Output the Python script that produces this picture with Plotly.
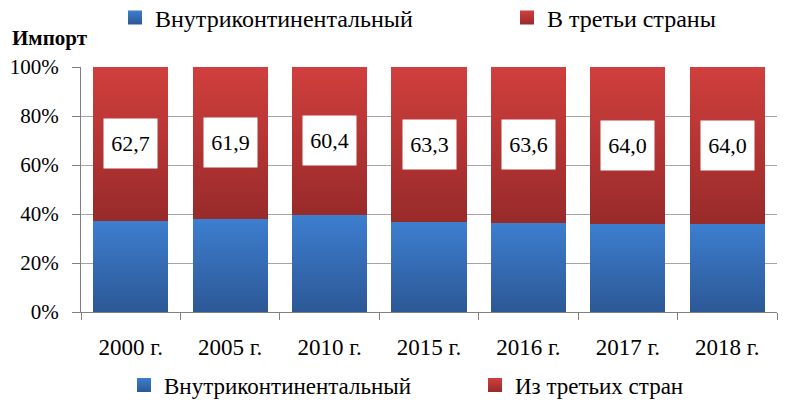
import json
import plotly.graph_objects as go

categories = ["2000 г.", "2005 г.", "2010 г.", "2015 г.", "2016 г.", "2017 г.", "2018 г."]
third_countries = [62.7, 61.9, 60.4, 63.3, 63.6, 64.0, 64.0]
intracontinental = [round(100 - v, 1) for v in third_countries]
label_text = [f"{v:.1f}".replace(".", ",") for v in third_countries]
y_ticks = [0, 20, 40, 60, 80, 100]
y_tick_text = [f"{v}%" for v in y_ticks]

bottom_legend_names = ["Внутриконтинентальный", "Из третьих стран"]
top_legend_names = ["Внутриконтинентальный", "В третьи страны"]

BLUE = "rgb(54,110,184)"
RED = "rgb(185,52,51)"
FONT = "Liberation Serif"

fig = go.Figure()
fig.add_trace(go.Bar(x=categories, y=intracontinental, name=bottom_legend_names[0],
                     marker=dict(color=BLUE, line=dict(width=0)), showlegend=False, hoverinfo="skip"))
fig.add_trace(go.Bar(x=categories, y=third_countries, name=bottom_legend_names[1],
                     marker=dict(color=RED, line=dict(width=0)), showlegend=False, hoverinfo="skip"))

# legend entries (legend-only marks)
for name, color, leg in [(bottom_legend_names[0], BLUE, "legend"),
                         (bottom_legend_names[1], RED, "legend3"),
                         (top_legend_names[0], BLUE, "legend2"),
                         (top_legend_names[1], RED, "legend4")]:
    fig.add_trace(go.Scatter(x=[None], y=[None], mode="markers", name=name, legend=leg,
                             marker=dict(symbol="square", size=14, color=color,
                                         line=dict(width=0)),
                             hoverinfo="skip"))

for c, b, r, t in zip(categories, intracontinental, third_countries, label_text):
    fig.add_annotation(x=c, y=b + r / 2, text=t, showarrow=False, bgcolor="white",
                       font=dict(family=FONT, size=22, color="black"),
                       width=51, height=47, align="center", valign="middle")

fig.add_annotation(x=-0.102, y=1.12, xref="paper", yref="paper", text="<b>Импорт</b>",
                   showarrow=False, xanchor="left", yanchor="middle",
                   font=dict(family=FONT, size=21, color="black"))

def leg(x_px, y_px, size):
    return dict(orientation="h", xref="container", yref="container",
                x=x_px / 789, xanchor="left", y=1 - y_px / 400, yanchor="middle",
                font=dict(family=FONT, size=size, color="black"), itemwidth=30,
                bgcolor="rgba(0,0,0,0)", borderwidth=0)

fig.update_layout(
    width=789, height=400,
    margin=dict(l=81, r=12, t=67, b=88, autoexpand=False),
    paper_bgcolor="white", plot_bgcolor="white",
    barmode="stack", bargap=0.245,
    font=dict(family=FONT, size=20, color="black"),
    legend=leg(166 - 42, 385, 23),
    legend3=leg(517 - 42, 385, 23),
    legend2=leg(157 - 42, 18, 24),
    legend4=leg(549 - 42, 18, 24),
    xaxis=dict(showline=True, linecolor="#808080", linewidth=1, ticks="outside",
               tickson="boundaries", ticklen=7, tickcolor="#808080",
               tickfont=dict(family=FONT, size=23), ticklabelstandoff=14, fixedrange=True),
    yaxis=dict(range=[0, 100], tickmode="array", tickvals=y_ticks, ticktext=y_tick_text,
               showline=True, linecolor="#808080", linewidth=1, ticks="outside", ticklen=8,
               tickcolor="#808080", showgrid=True, gridcolor="#A6A6A6", gridwidth=1,
               tickfont=dict(family=FONT, size=21), ticklabelstandoff=9,
               fixedrange=True, zeroline=False),
    showlegend=True,
)

grads = {
    BLUE: ["rgb(61,126,207)", "rgb(44,88,150)"],
    RED: ["rgb(208,63,61)", "rgb(152,42,42)"],
}
post = """
(function(){
document.body.style.margin = '0';
var gd = document.getElementById('{plot_id}');
var grads = GRADS;
var ns = 'http://www.w3.org/2000/svg';
var svg = gd.querySelector('svg.main-svg');
var defs = svg.querySelector('defs') || svg.insertBefore(document.createElementNS(ns,'defs'), svg.firstChild);
var ids = {}; var n = 0;
Object.keys(grads).forEach(function(k){
  var id = 'grad' + (n++); ids[k.replace(/\\s/g,'')] = id;
  var lg = document.createElementNS(ns,'linearGradient');
  lg.setAttribute('id', id); lg.setAttribute('x1','0'); lg.setAttribute('y1','0');
  lg.setAttribute('x2','0'); lg.setAttribute('y2','1');
  [[0, grads[k][0]], [1, grads[k][1]]].forEach(function(s){
    var st = document.createElementNS(ns,'stop');
    st.setAttribute('offset', s[0]); st.setAttribute('stop-color', s[1]);
    lg.appendChild(st);
  });
  defs.appendChild(lg);
});
gd.querySelectorAll('path').forEach(function(p){
  var f = (p.style.fill || '').replace(/\\s/g,'');
  if (ids[f]) { p.style.fill = 'url(#' + ids[f] + ')'; }
});
})();
""".replace("GRADS", json.dumps(grads))

fig.write_html("out.html", post_script=post, config={"displayModeBar": False})
